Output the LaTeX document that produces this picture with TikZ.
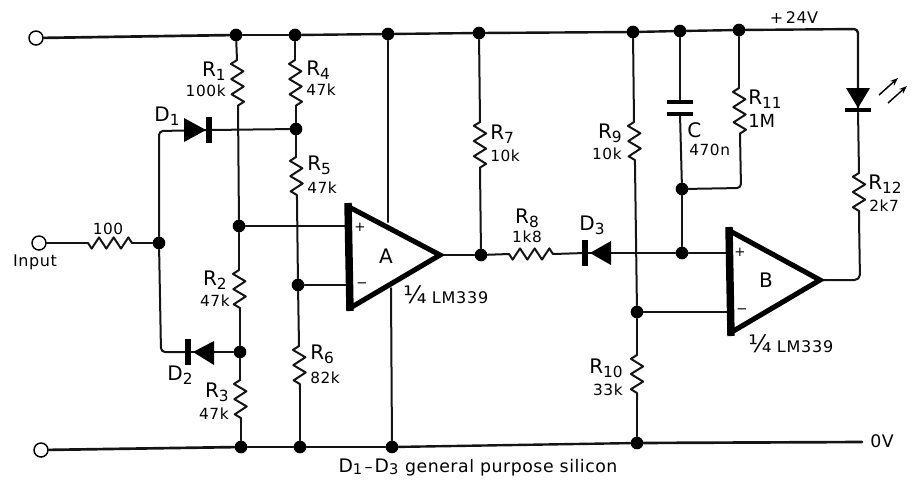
\documentclass[tikz,border=0pt]{standalone}
\usepackage{fontspec}
\setmainfont{DejaVu Sans}
\usetikzlibrary{decorations.pathmorphing,arrows.meta}
\newcommand\Lb[2]{{\fontsize{15}{15}\selectfont #1\raisebox{-3pt}{\fontsize{11.5}{11.5}\selectfont #2}}}
\newcommand\Ln[2]{{\fontsize{14}{14}\selectfont #1\raisebox{-1.5pt}{\fontsize{11}{11}\selectfont #2}}}
\newcommand\Vl[1]{{\fontsize{11.5}{11.5}\selectfont\addfontfeatures{LetterSpace=4}#1}}
\newcommand\Qt{{\fontsize{12}{12}\selectfont\addfontfeatures{LetterSpace=5}{\fontsize{18}{18}\selectfont ¼}\,\,LM339}}
\tikzset{
  wire/.style={line width=1.5pt,line cap=round,line join=round,black!92},
  rail/.style={wire,line width=1.8pt},
  zig/.style={wire,decorate,decoration={zigzag,mirror,segment length=11.4pt,amplitude=4.6pt}},
  zigh/.style={wire,decorate,decoration={zigzag,mirror,segment length=11pt,amplitude=4.2pt}},
  dot/.style={circle,fill=black,draw=none,inner sep=0pt,minimum size=9.5pt},
  term/.style={circle,draw=black,fill=white,line width=1.1pt,inner sep=0pt,minimum size=10.5pt},
  vbar/.style={rectangle,fill=black,inner sep=0pt,minimum width=4pt,minimum height=19pt},
  hbar/.style={rectangle,fill=black,inner sep=0pt,minimum width=19pt,minimum height=3.6pt},
  plate/.style={rectangle,fill=black,inner sep=0pt,minimum width=19pt,minimum height=3.4pt},
  lab/.style={inner sep=0pt,text=black},
  amp/.style={line width=3.8pt,line join=miter,black},
  ampback/.style={line width=5.6pt,black},
  ray/.style={line width=1.1pt,black},
}
\begin{document}
\begin{tikzpicture}[x=0.75pt,y=-0.75pt]
\useasboundingbox (0,0) rectangle (915,480);
% terminals
\node[term] (t1) at (36,38) {};
\node[term] (t2) at (39,243) {};
\node[term] (t3) at (41,450) {};
% top rail junctions
\node[dot] (a1) at (236,35) {};
\node[dot] (a2) at (295,35) {};
\node[dot] (a3) at (388,34) {};
\node[dot] (a4) at (479,33) {};
\node[dot] (a5) at (633,32) {};
\node[dot] (a6) at (680,31) {};
\node[dot] (a7) at (739,30) {};
\coordinate (a8) at (858,29);
% bottom rail junctions
\node[dot] (b1) at (241,447) {};
\node[dot] (b2) at (300,447) {};
\node[dot] (b3) at (392,447) {};
\node[dot] (b4) at (637,443) {};
\coordinate (b5) at (862,442);
% internal junctions
\node[dot] (n1) at (159,243) {};
\node[dot] (n2) at (296,129) {};
\node[dot] (n3) at (239,226) {};
\node[dot] (n4) at (298,285) {};
\node[dot] (n5) at (240,352) {};
\node[dot] (n6) at (481,255) {};
\node[dot] (n7) at (682,253) {};
\node[dot] (n8) at (682,189) {};
\node[dot] (n9) at (637,312) {};
% corners
\coordinate (c1) at (159,131);
\coordinate (c2) at (161,352);
\coordinate (c3) at (741,188);
\coordinate (c4) at (860,280);
% resistor ends
\coordinate (r0a) at (88,243);   \coordinate (r0b) at (132,243);
\coordinate (r1a) at (237,60);   \coordinate (r1b) at (238,106);
\coordinate (r2a) at (239,270);  \coordinate (r2b) at (240,311);
\coordinate (r3a) at (240,380);  \coordinate (r3b) at (241,421);
\coordinate (r4a) at (295,60);   \coordinate (r4b) at (296,106);
\coordinate (r5a) at (296,157);  \coordinate (r5b) at (297,200);
\coordinate (r6a) at (299,346);  \coordinate (r6b) at (300,390);
\coordinate (r7a) at (480,122);  \coordinate (r7b) at (480,168);
\coordinate (r8a) at (509,254);  \coordinate (r8b) at (553,254);
\coordinate (r9a) at (634,122);  \coordinate (r9b) at (635,165);
\coordinate (r10a) at (637,355); \coordinate (r10b) at (637,400);
\coordinate (r11a) at (739,88);  \coordinate (r11b) at (740,134);
\coordinate (r12a) at (859,173); \coordinate (r12b) at (859,218);
% diode bars and capacitor plates
\node[vbar] (d1) at (209,130) {};
\node[vbar] (d2) at (188,352) {};
\node[vbar] (d3) at (585,253) {};
\node[hbar] (led) at (858,110) {};
\node[plate] (cp1) at (680,102) {};
\node[plate] (cp2) at (680,114) {};
% op amp pins
\coordinate (ap) at (347,226);
\coordinate (am) at (347,285);
\coordinate (ao) at (440,255);
\coordinate (at) at (388,222);
\coordinate (ab) at (391,288);
\coordinate (bp) at (727,253);
\coordinate (bm) at (729,312);
\coordinate (bo) at (820,280);
% rails
\draw[rail,line width=2pt] (t1) -- (a1);
\draw[rail] (a1) -- (a2);
\draw[rail] (a2) -- (a3);
\draw[rail] (a3) -- (a4);
\draw[rail] (a4) -- (a5);
\draw[rail] (a5) -- (a6);
\draw[rail] (a6) -- (a7);
\draw[rail,rounded corners=3pt] (a7) -- (a8) -- (led);
\draw[rail,line width=2pt] (t3) -- (b1);
\draw[rail] (b1) -- (b2);
\draw[rail] (b2) -- (b3);
\draw[rail] (b3) -- (b4);
\draw[rail,line width=2pt] (b4) -- (b5);
% resistors
\draw[zigh] (r0a) -- (r0b);
\foreach \r in {r1,r2,r3,r4,r5,r6,r7,r9,r10,r11,r12}
  \draw[zig] (\r a) -- (\r b);
\draw[zigh] (r8a) -- (r8b);
% wires
\draw[wire] (t2) -- (r0a);
\draw[wire] (r0b) -- (n1);
\draw[wire] (a1) -- (r1a);
\draw[wire] (r1b) -- (n3);
\draw[wire] (n3) -- (r2a);
\draw[wire] (r2b) -- (n5);
\draw[wire] (n5) -- (r3a);
\draw[wire] (r3b) -- (b1);
\draw[wire] (a2) -- (r4a);
\draw[wire] (r4b) -- (n2);
\draw[wire] (n2) -- (r5a);
\draw[wire] (r5b) -- (n4);
\draw[wire] (n4) -- (r6a);
\draw[wire] (r6b) -- (b2);
\draw[wire,rounded corners=3pt] (n1) -- (c1) -- (d1);
\draw[wire] (d1) -- (n2);
\draw[wire,rounded corners=3pt] (n1) -- (c2) -- (d2);
\draw[wire] (d2) -- (n5);
\draw[wire] (n3) -- (ap);
\draw[wire] (n4) -- (am);
\draw[wire] (a3) -- (at);
\draw[wire] (ab) -- (b3);
\draw[wire] (ao) -- (n6);
\draw[wire] (n6) -- (r8a);
\draw[wire] (r8b) -- (d3);
\draw[wire] (d3) -- (n7);
\draw[wire] (n7) -- (bp);
\draw[wire] (a4) -- (r7a);
\draw[wire] (r7b) -- (n6);
\draw[wire] (a5) -- (r9a);
\draw[wire] (r9b) -- (n9);
\draw[wire] (n9) -- (r10a);
\draw[wire] (r10b) -- (b4);
\draw[wire] (n9) -- (bm);
\draw[wire] (a6) -- (cp1);
\draw[wire] (cp2) -- (n8);
\draw[wire] (n8) -- (n7);
\draw[wire] (a7) -- (r11a);
\draw[wire,rounded corners=3pt] (r11b) -- (c3) -- (n8);
\draw[wire] (led) -- (r12a);
\draw[wire,rounded corners=4pt] (r12b) -- (c4) -- (bo);
% diode triangles
\fill (184,118) -- (206,130) -- (184,142) -- cycle;
\fill (214,341) -- (193,352) -- (214,365) -- cycle;
\fill (611,241) -- (590,253) -- (611,265) -- cycle;
\fill (846,88) -- (870,88) -- (858,108) -- cycle;
% LED rays
\draw[ray,-{Stealth[length=6pt,width=4.5pt]}] (879,95) -- (898,78);
\draw[ray,-{Stealth[length=6pt,width=4.5pt]}] (888,103) -- (907,86);
% op amps
\draw[amp] (349,207) -- (ao) -- (350,308);
\draw[ampback] (348,203) -- (350,311);
\draw[amp] (730,231) -- (bo) -- (730,333);
\draw[ampback] (729,227) -- (731,336);
% labels
\node[lab,font=\fontsize{15}{15}\selectfont] (la) at (386,256) {A};
\node[lab,font=\fontsize{15}{15}\selectfont] (lb) at (766,280) {B};
\node[lab,font=\fontsize{10}{10}\selectfont] (pa) at (360,227) {+};
\node[lab,font=\fontsize{10}{10}\selectfont] (ma) at (362,285) {−};
\node[lab,font=\fontsize{10}{10}\selectfont] (pb) at (740,252) {+};
\node[lab,font=\fontsize{10}{10}\selectfont] (mb) at (742,311) {−};
\node[lab,anchor=east] (l1) at (226,71) {\Lb{R}{1}};
\node[lab,anchor=east] (v1) at (226,91) {\Vl{100k}};
\node[lab,anchor=east] (l2) at (227,280) {\Lb{R}{2}};
\node[lab,anchor=east] (v2) at (230,301) {\Vl{47k}};
\node[lab,anchor=east] (l3) at (229,392) {\Lb{R}{3}};
\node[lab,anchor=east] (v3) at (229,414) {\Vl{47k}};
\node[lab,anchor=west] (l4) at (306,70) {\Lb{R}{4}};
\node[lab,anchor=west] (v4) at (306,90) {\Vl{47k}};
\node[lab,anchor=west] (l5) at (307,165) {\Lb{R}{5}};
\node[lab,anchor=west] (v5) at (307,188) {\Vl{47k}};
\node[lab,anchor=west] (l6) at (310,354) {\Lb{R}{6}};
\node[lab,anchor=west] (v6) at (310,378) {\Vl{82k}};
\node[lab,anchor=west] (l7) at (490,134) {\Lb{R}{7}};
\node[lab,anchor=west] (v7) at (490,156) {\Vl{10k}};
\node[lab] (l8) at (527,218) {\Lb{R}{8}};
\node[lab] (v8) at (527,237) {\Vl{1k8}};
\node[lab,anchor=east] (l9) at (622,133) {\Lb{R}{9}};
\node[lab,anchor=east] (v9) at (622,154) {\Vl{10k}};
\node[lab,anchor=east] (l10) at (623,368) {\Lb{R}{10}};
\node[lab,anchor=east] (v10) at (623,390) {\Vl{33k}};
\node[lab,anchor=west] (l11) at (748,99) {\Lb{R}{11}};
\node[lab,anchor=west] (v11) at (748,121) {{\fontsize{13.5}{13.5}\selectfont 1M}};
\node[lab,anchor=west] (l12) at (868,184) {\Lb{R}{12}};
\node[lab,anchor=west] (v12) at (869,206) {\Vl{2k7}};
\node[lab,anchor=west] (lc) at (687,130) {{\fontsize{15}{15}\selectfont C}};
\node[lab,anchor=west] (vc) at (689,150) {\Vl{470n}};
\node[lab] (ld1) at (167,116) {\Lb{D}{1}};
\node[lab] (ld2) at (180,375) {\Lb{D}{2}};
\node[lab] (ld3) at (592,225) {\Lb{D}{3}};
\node[lab] (v0) at (108,229) {\Vl{100}};
\node[lab] (li) at (35,262) {{\fontsize{12}{12}\selectfont\addfontfeatures{LetterSpace=4}Input}};
\node[lab] (l24) at (794,18) {{\fontsize{12}{12}\selectfont\addfontfeatures{LetterSpace=3}+\,24V}};
\node[lab] (l0) at (882,441) {{\fontsize{13}{13}\selectfont\addfontfeatures{LetterSpace=3}0V}};
\node[lab,anchor=west] (ua) at (403,295) {\Qt};
\node[lab,anchor=west] (ub) at (748,344) {\Qt};
\node[lab] (note) at (478,467) {\Ln{D}{1}\,{\fontsize{12}{12}\selectfont–}\,\Ln{D}{3}\enspace{\fontsize{13}{13}\selectfont\addfontfeatures{LetterSpace=3}general purpose silicon}};
\end{tikzpicture}
\end{document}
